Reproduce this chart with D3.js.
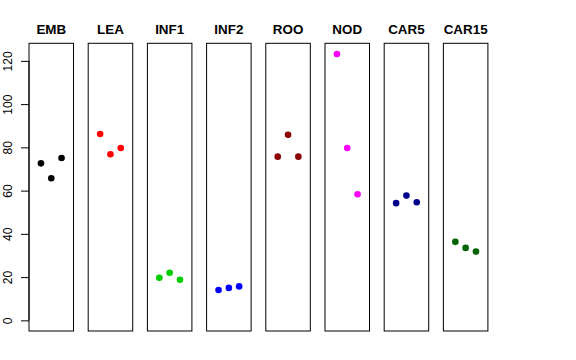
<!DOCTYPE html>
<html>
<head>
<meta charset="utf-8">
<script src="https://cdn.jsdelivr.net/npm/d3@7"></script>
<style>
  html, body { margin: 0; padding: 0; background: #fff; }
  svg { display: block; }
</style>
</head>
<body>
<script>
const categories = ["EMB", "LEA", "INF1", "INF2", "ROO", "NOD", "CAR5", "CAR15"];
const values = [
  [72.6, 65.7, 75.1],
  [86.2, 76.8, 79.7],
  [19.7, 22.0, 18.8],
  [14.0, 15.0, 15.7],
  [75.7, 85.8, 75.7],
  [123.2, 79.7, 58.3],
  [54.2, 57.7, 54.6],
  [36.3, 33.5, 31.8]
];
const colors = ["#000000", "#FF0000", "#00CD00", "#0000FF", "#8B0000", "#FF00FF", "#00008B", "#006400"];
const yTicks = [0, 20, 40, 60, 80, 100, 120];

(function () {
const W = 576, H = 360;
const svg = d3.select("body").append("svg").attr("width", W).attr("height", H);

const plotTop = 43.3, plotBottom = 331;
const maxV = d3.max(values.flat());
const ext = maxV * 0.04;
const y = d3.scaleLinear().domain([-ext, maxV + ext]).range([plotBottom, plotTop]);

const band = d3.scaleBand().domain(categories).range([29, 487.9]).paddingInner(0.248).paddingOuter(0);
const bw = band.bandwidth();
const xi = d3.scaleLinear().domain([-0.16, 4.16]).range([0, bw]);

categories.forEach((c, i) => {
  const g = svg.append("g").attr("transform", `translate(${band(c)},0)`);
  g.append("rect")
    .attr("x", 0).attr("y", plotTop)
    .attr("width", bw).attr("height", plotBottom - plotTop)
    .attr("fill", "none").attr("stroke", "#000").attr("stroke-width", 1);
  g.append("text")
    .attr("x", bw / 2).attr("y", 34)
    .attr("text-anchor", "middle")
    .attr("font-family", "Liberation Sans, Arial, sans-serif")
    .attr("font-weight", "bold")
    .attr("font-size", "13.4px")
    .attr("fill", "#000")
    .text(c);
  g.selectAll("circle").data(values[i]).enter().append("circle")
    .attr("cx", (d, j) => xi(j + 1))
    .attr("cy", d => y(d))
    .attr("r", 3.3)
    .attr("fill", colors[i]);
});

const axis = d3.axisLeft(y).tickValues(yTicks).tickSize(8).tickPadding(0).tickFormat(d3.format("d"));
const ag = svg.append("g").attr("transform", "translate(29,0)").call(axis);
ag.select(".domain").attr("d", `M0,${y(0)}V${y(120)}`).attr("stroke", "#000");
ag.selectAll(".tick line").attr("stroke", "#000");
ag.selectAll(".tick text")
  .attr("font-family", "Liberation Sans, Arial, sans-serif")
  .attr("font-size", "12px")
  .attr("fill", "#000")
  .attr("x", null).attr("dy", null)
  .attr("text-anchor", "middle")
  .attr("transform", "translate(-17,0) rotate(-90)");
})();
</script>
</body>
</html>
